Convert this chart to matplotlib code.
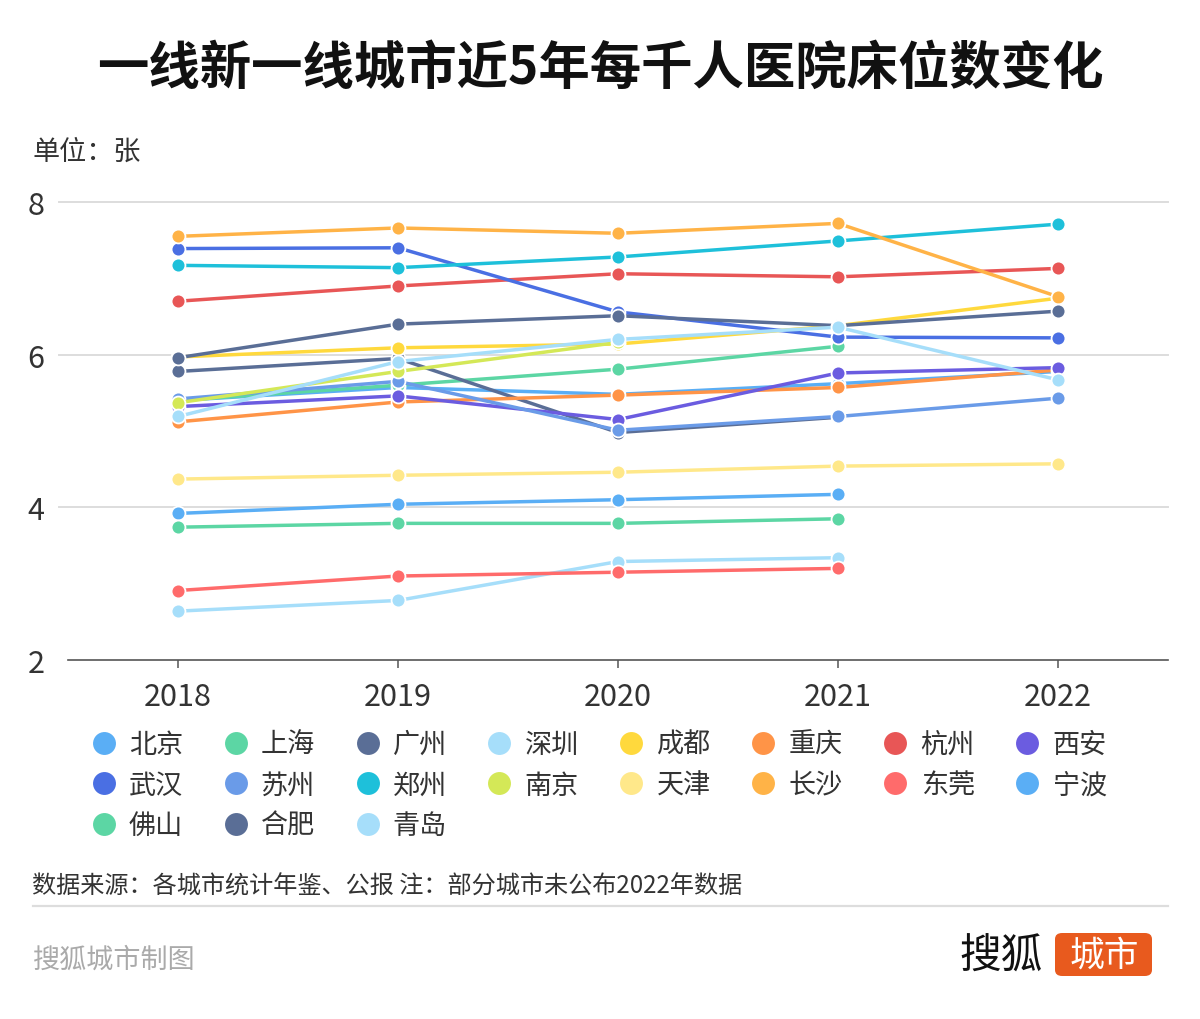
import numpy as np
import matplotlib
matplotlib.use('Agg')
import matplotlib.pyplot as plt
from matplotlib.lines import Line2D
from matplotlib.patches import FancyBboxPatch

plt.rcParams['font.family'] = ['Noto Sans CJK SC', 'DejaVu Sans']

nan = np.nan
years = ['2018', '2019', '2020', '2021', '2022']
cities = ['北京', '上海', '广州', '深圳', '成都', '重庆', '杭州', '西安', '武汉', '苏州',
          '郑州', '南京', '天津', '长沙', '东莞', '宁波', '佛山', '合肥', '青岛']
values = {
    '北京': [5.40, 5.57, 5.48, 5.62, 5.78],
    '上海': [5.40, 5.60, 5.81, 6.11, nan],
    '广州': [5.78, 5.95, 4.98, 5.18, nan],
    '深圳': [2.64, 2.78, 3.29, 3.34, nan],
    '成都': [5.97, 6.09, 6.14, 6.38, 6.74],
    '重庆': [5.12, 5.38, 5.47, 5.57, 5.80],
    '杭州': [6.70, 6.90, 7.06, 7.02, 7.13],
    '西安': [5.32, 5.46, 5.15, 5.76, 5.83],
    '武汉': [7.39, 7.40, 6.56, 6.23, 6.22],
    '苏州': [5.42, 5.65, 5.01, 5.19, 5.43],
    '郑州': [7.17, 7.14, 7.28, 7.49, 7.71],
    '南京': [5.37, 5.78, 6.16, nan, nan],
    '天津': [4.37, 4.42, 4.46, 4.54, 4.57],
    '长沙': [7.55, 7.66, 7.59, 7.72, 6.76],
    '东莞': [2.91, 3.10, 3.15, 3.20, nan],
    '宁波': [3.92, 4.04, 4.10, 4.17, nan],
    '佛山': [3.74, 3.79, 3.79, 3.85, nan],
    '合肥': [5.96, 6.40, 6.51, 6.38, 6.57],
    '青岛': [5.19, 5.91, 6.20, 6.36, 5.67],
}
palette = ['#5AAEF5', '#5CD6A4', '#5A6E96', '#A6DEFA', '#FFD93D', '#FF9447', '#E85656',
           '#6B5CE0', '#4A6FE3', '#6A9BE8', '#1EC0DA', '#D4E857', '#FFE88A', '#FFB347',
           '#FF6B6B']
yticks = [2, 4, 6, 8]

W, H = 1200, 1020
def fx(px):
    return px / W
def fy(py):
    return 1 - py / H

fig = plt.figure(figsize=(W / 100, H / 100), dpi=100)
fig.patch.set_facecolor('white')
ax = fig.add_axes([fx(68), fy(661), fx(1168) - fx(68), fy(203) - fy(661)])

x = np.arange(len(years))
handles = []
for i, c in enumerate(cities):
    col = palette[i % len(palette)]
    ax.plot(x, values[c], color=col, lw=2.5, marker='o', ms=10, mfc=col,
            mec='white', mew=1.3, zorder=3 + i * 0.01, solid_capstyle='round')
    handles.append(Line2D([], [], ls='none', marker='o', ms=16.5, mfc=col, mec=col,
                          mew=0, label=c))

ax.set_xlim(-0.5, 4.5)
ax.set_ylim(2, 8)
ax.set_xticks(x)
ax.set_xticklabels(years)
ax.set_yticks(yticks)
for v in yticks[1:]:
    ax.axhline(v, xmin=-0.008, xmax=1, color='#DDDDDD', lw=1.4, zorder=1, clip_on=False)
for s in ['top', 'right', 'left']:
    ax.spines[s].set_visible(False)
ax.spines['bottom'].set_color('#555555')
ax.spines['bottom'].set_linewidth(1.2)
ax.spines['bottom'].set_zorder(2)
ax.tick_params(axis='x', length=6, width=1.1, color='#555555', labelsize=22,
               labelcolor='#333333', pad=9)
ax.tick_params(axis='y', length=0, labelsize=22, labelcolor='#333333', pad=17)

# legend: reorder so column-wise filling reads row by row
ncol = 8
order = []
for k in range(ncol):
    order += [handles[j] for j in range(k, len(handles), ncol)]
fig.legend(handles=order, ncol=ncol, loc='upper left',
           bbox_to_anchor=(fx(90), fy(732)), frameon=False, fontsize=19.5,
           handlelength=1.0, handletextpad=0.43, columnspacing=1.44,
           labelspacing=0.5, borderpad=0, borderaxespad=0, labelcolor='#333333')

fig.text(0.5, fy(68), '一线新一线城市近5年每千人医院床位数变化', ha='center', va='center',
         fontsize=37, fontweight='heavy', color='#111111')
fig.text(fx(33), fy(152), '单位：张', ha='left', va='center', fontsize=19.5, color='#333333')

fig.text(fx(32), fy(887), '数据来源：各城市统计年鉴、公报 注：部分城市未公布2022年数据',
         ha='left', va='center', fontsize=17.4, color='#333333')
fig.add_artist(Line2D([fx(33), fx(1168)], [fy(907), fy(907)], color='#DDDDDD', lw=1.6))
fig.text(fx(33), fy(960), '搜狐城市制图', ha='left', va='center', fontsize=19.5,
         color='#AAAAAA')

fig.text(fx(1001), fy(957), '搜狐', ha='center', va='center', fontsize=30,
         fontweight='medium', color='#111111')
box = FancyBboxPatch((fx(1055), fy(977)), fx(97), 43 / H,
                     boxstyle='round,pad=0,rounding_size=0.006',
                     transform=fig.transFigure, fc='#E85A1E', ec='none')
fig.add_artist(box)
fig.text(fx(1104), fy(956), '城市', ha='center', va='center', fontsize=25,
         color='white')

fig.savefig('out.png', dpi=100, facecolor='white')
